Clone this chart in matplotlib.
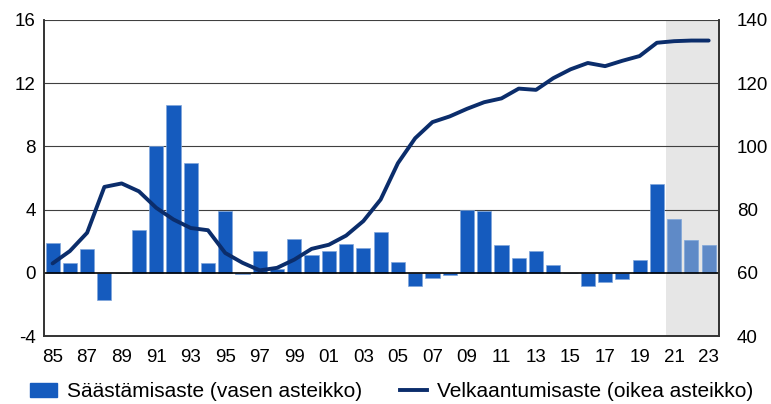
import numpy as np
import matplotlib.pyplot as plt
from matplotlib.lines import Line2D
from matplotlib.patches import Patch

plt.rcParams['font.family'] = ['Liberation Sans', 'DejaVu Sans']
plt.rcParams['axes.unicode_minus'] = False

years = np.arange(1985, 2024)
labels = ['%02d' % (y % 100) for y in years]

# saastamisaste, % (vasen asteikko)
saving = [1.9, 0.6, 1.5, -1.7, 0.0, 2.7, 8.0, 10.6, 6.95, 0.65,
          3.9, -0.1, 1.4, 0.25, 2.15, 1.15, 1.4, 1.85, 1.6, 2.6,
          0.7, -0.85, -0.35, -0.15, 4.0, 3.9, 1.75, 0.95, 1.4, 0.5,
          0.0, -0.85, -0.55, -0.4, 0.8, 5.65, 3.4, 2.1, 1.75]

# velkaantumisaste, % (oikea asteikko)
debt = [63.0, 66.9, 72.7, 87.2, 88.3, 85.8, 80.6, 76.9, 74.2, 73.5,
        66.3, 63.2, 60.8, 61.6, 64.2, 67.6, 68.9, 71.8, 76.4, 83.2,
        94.7, 102.6, 107.7, 109.5, 111.9, 114.0, 115.2, 118.3, 117.9, 121.6,
        124.4, 126.4, 125.4, 127.1, 128.6, 132.8, 133.3, 133.5, 133.5]

forecast_from = 2021

bar_col = '#155BBE'
fc_col = '#5F8AC7'
line_col = '#0B2D6B'

fig = plt.figure(figsize=(7.71, 4.04), dpi=100)
ax = fig.add_axes([0.057, 0.168, 0.8756, 0.7825])
ax2 = ax.twinx()

ax.axvspan(forecast_from - 0.5, years[-1] + 0.6, color='#E6E6E6', zorder=0, lw=0)

for v in [4, 8, 12, 16]:
    ax.axhline(v, color='#404040', lw=0.8, zorder=1)
ax.axhline(0, color='black', lw=1.2, zorder=3)

cols = [fc_col if y >= forecast_from else bar_col for y in years]
ax.bar(years, saving, width=0.82, color=cols, edgecolor='#7FA6DA', linewidth=0.5, zorder=2)

ax2.plot(years, debt, color=line_col, lw=2.8, solid_capstyle='round', zorder=4)

ax.set_xlim(years[0] - 0.5, years[-1] + 0.6)
ax.set_ylim(-4, 16)
ax.set_yticks([-4, 0, 4, 8, 12, 16])
ax2.set_ylim(40, 140)
ax2.set_yticks([40, 60, 80, 100, 120, 140])

ax.set_xticks(years[::2])
ax.set_xticklabels(labels[::2])

for a in (ax, ax2):
    a.tick_params(length=0, labelsize=13.5, colors='black')
    a.spines['top'].set_visible(False)
    for s in ['left', 'right', 'bottom']:
        a.spines[s].set_color('#333333')
        a.spines[s].set_linewidth(1.2)
ax.tick_params(axis='y', pad=6)
ax2.tick_params(axis='y', pad=13)
ax.tick_params(axis='x', pad=9)

ax.set_zorder(ax2.get_zorder() - 1)
ax.patch.set_visible(True)
ax2.patch.set_visible(False)

handles = [Patch(facecolor=bar_col, edgecolor=bar_col),
           Line2D([0], [0], color=line_col, lw=2.8)]
fig.legend(handles, ['Säästämisaste (vasen asteikko)', 'Velkaantumisaste (oikea asteikko)'],
           loc='center', bbox_to_anchor=(0.508, 0.03), ncol=2, frameon=False,
           fontsize=15, handlelength=1.3, handleheight=0.6,
           columnspacing=1.8, handletextpad=0.5, borderaxespad=0)

fig.savefig('out.png', dpi=100)
